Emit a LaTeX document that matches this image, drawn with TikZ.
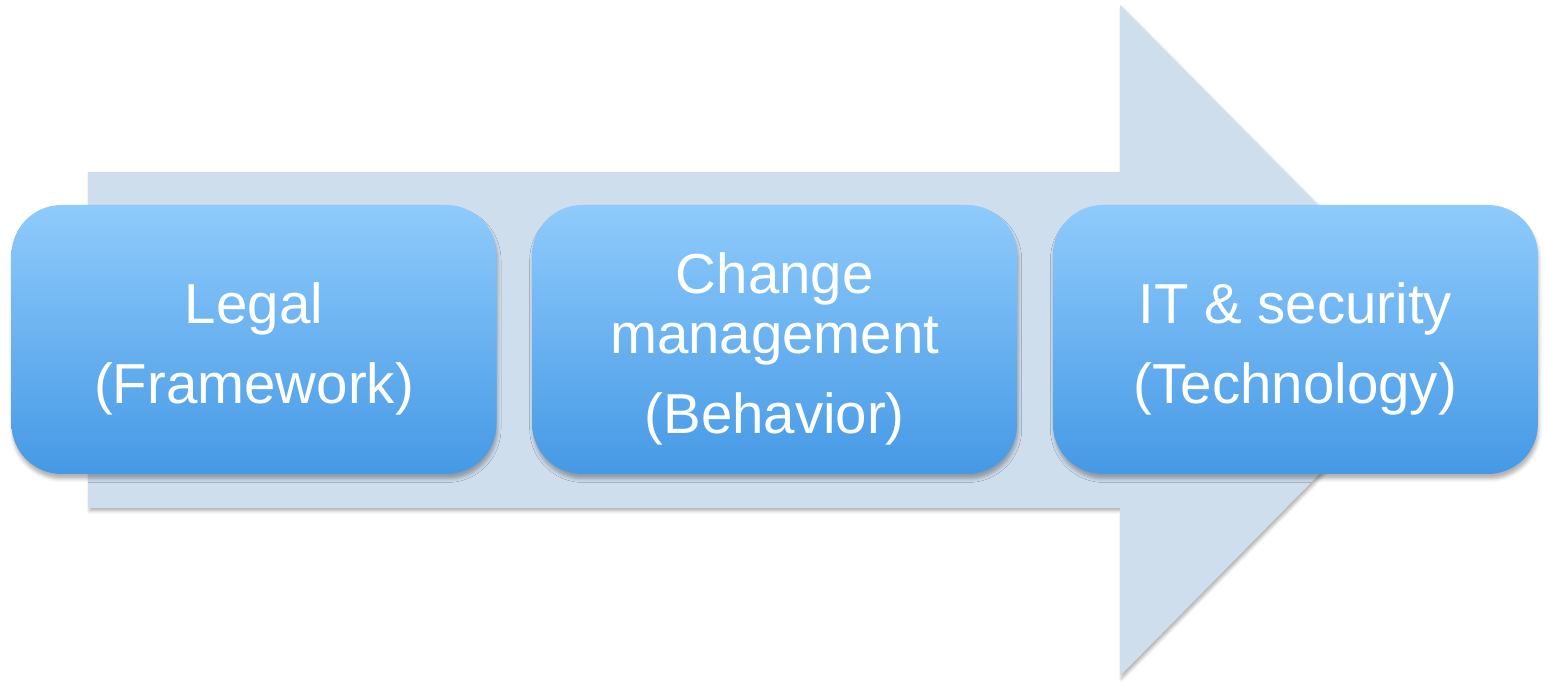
\documentclass[tikz,border=0pt]{standalone}
\usepackage{fontspec}
\setmainfont{Liberation Sans}
\usetikzlibrary{positioning, shadows.blur}

\definecolor{arrowblue}{RGB}{207,222,237}
\definecolor{stagetop}{RGB}{143,203,252}
\definecolor{stagebottom}{RGB}{69,153,229}

\begin{document}
\begin{tikzpicture}[
    stage/.style={rectangle, rounded corners=1cm, top color=stagetop, bottom color=stagebottom, minimum width=9.7cm, minimum height=5.38cm, align=center, text=white, font=\fontsize{32.1}{34.1}\selectfont, blur shadow={shadow xshift=0.02cm, shadow yshift=-0.1cm, shadow blur radius=0.07cm, shadow opacity=30}},
    bigarrow/.style={fill=arrowblue, blur shadow={shadow xshift=0.03cm, shadow yshift=-0.06cm, shadow blur radius=0.06cm, shadow opacity=30}}
]
\useasboundingbox (0,0) rectangle (30.88,13.62);

% Background arrow
\fill[bigarrow] (1.76,10.18) -- (22.4,10.18) -- (22.4,13.52) -- (29.04,6.82) -- (22.4,0.1) -- (22.4,3.46) -- (1.76,3.46) -- cycle;

% Stage boxes
\node[stage] (legal) at (5.08,6.83) {\rule{0pt}{1.2cm}Legal\\[0.4cm](Framework)};
\node[stage] (change) [right=0.7cm of legal] {\rule{0pt}{1.2cm}Change\\management\\[0.4cm](Behavior)};
\node[stage] (itsec) [right=0.7cm of change] {\rule{0pt}{1.2cm}IT \& security\\[0.4cm](Technology)};

\end{tikzpicture}
\end{document}
